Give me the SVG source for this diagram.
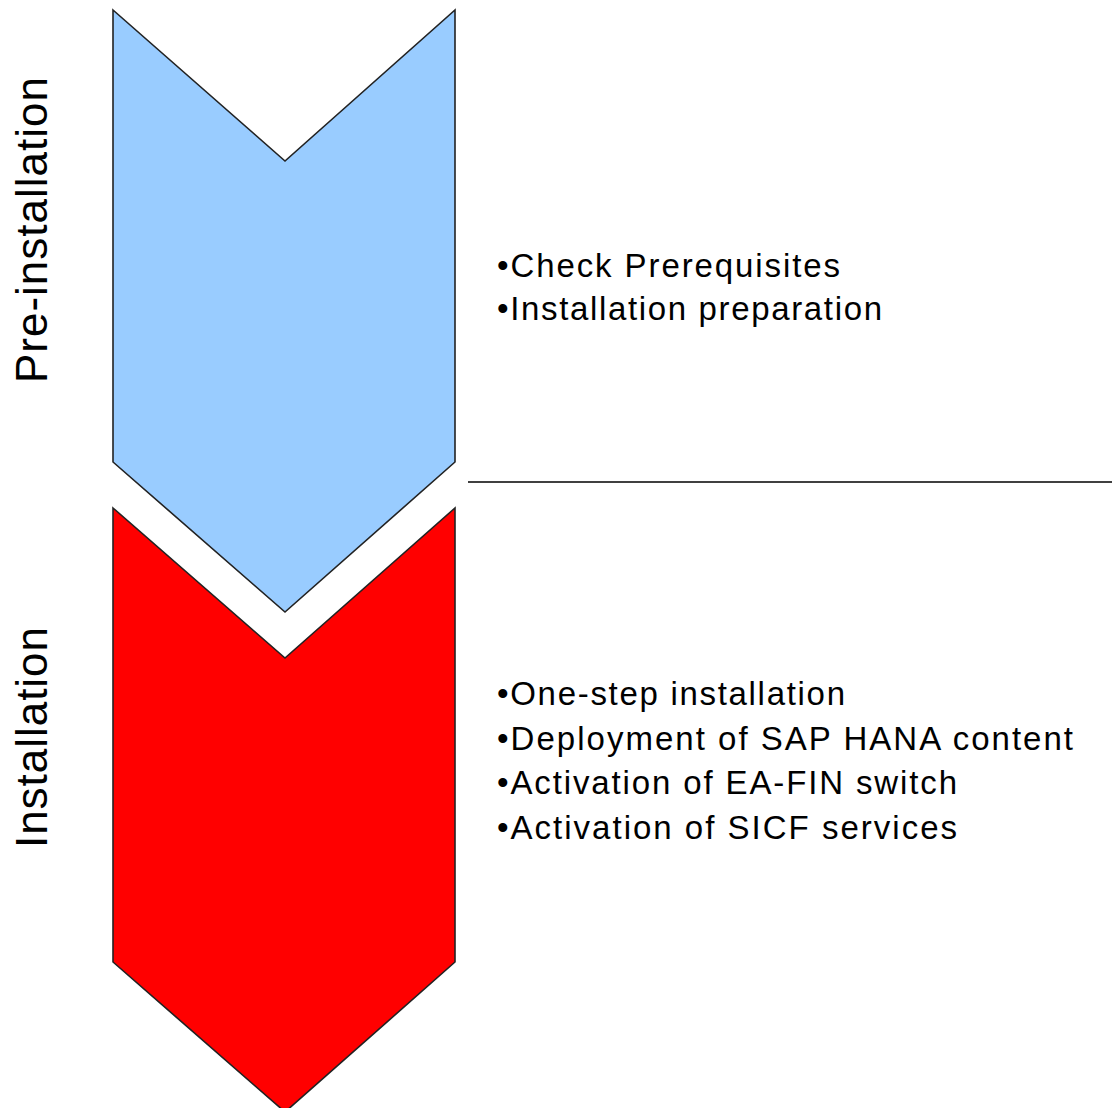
<svg xmlns="http://www.w3.org/2000/svg" width="1112" height="1108" viewBox="0 0 1112 1108">
<style>
.chev{stroke:#222;stroke-width:1.6;stroke-linejoin:miter}
.lbl{font-family:"Liberation Sans",Arial,sans-serif;font-size:44px;fill:#000}
.bul{font-family:"Liberation Sans",Arial,sans-serif;font-size:33px;fill:#000}
</style>
<rect width="1112" height="1108" fill="#fff"/>
<g id="pre-installation">
<polygon class="chev" fill="#99CCFF" points="113,10 285,161 455,10 455,462 285,612 113,462"/>
<text class="lbl" transform="translate(47,383) rotate(-90)" x="0" y="0" textLength="306" lengthAdjust="spacing">Pre-installation</text>
<text class="bul" x="497" y="277" textLength="343" lengthAdjust="spacing">•Check Prerequisites</text>
<text class="bul" x="497" y="320" textLength="385" lengthAdjust="spacing">•Installation preparation</text>
</g>
<g id="installation">
<polygon class="chev" fill="#FF0000" points="113,508 285,658 455,508 455,962 285,1112 113,962"/>
<text class="lbl" transform="translate(47,848) rotate(-90)" x="0" y="0" textLength="221" lengthAdjust="spacing">Installation</text>
<text class="bul" x="497" y="705" textLength="348" lengthAdjust="spacing">•One-step installation</text>
<text class="bul" x="497" y="750" textLength="576" lengthAdjust="spacing">•Deployment of SAP HANA content</text>
<text class="bul" x="497" y="794" textLength="460" lengthAdjust="spacing">•Activation of EA-FIN switch</text>
<text class="bul" x="497" y="839" textLength="460" lengthAdjust="spacing">•Activation of SICF services</text>
</g>
<g id="connectors">
<line x1="468" y1="482" x2="1112" y2="482" stroke="#000" stroke-width="1.5"/>
</g>
</svg>
